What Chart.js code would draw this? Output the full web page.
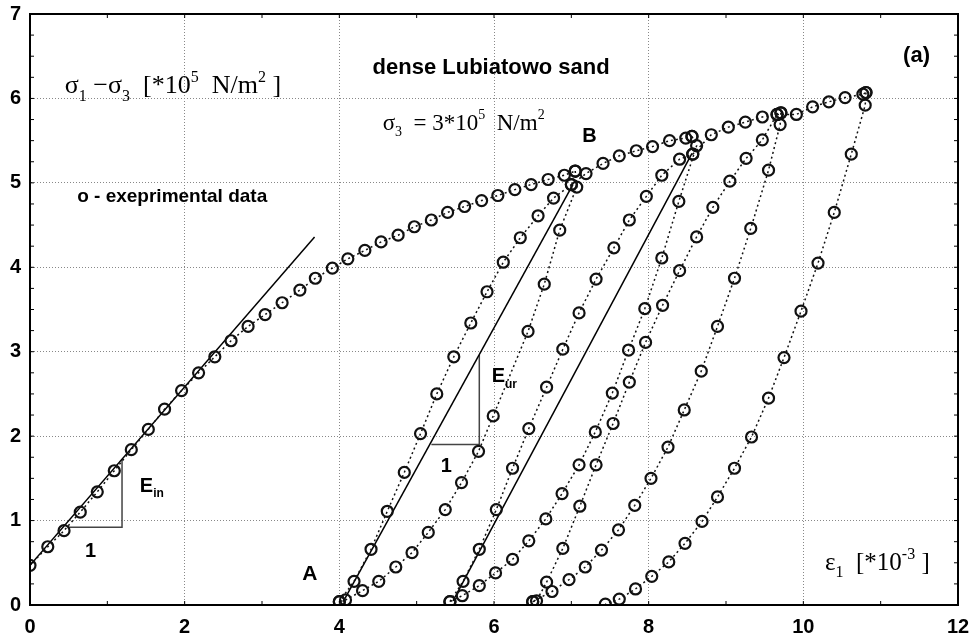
<!DOCTYPE html>
<html>
<head>
<meta charset="utf-8">
<script src="https://cdn.jsdelivr.net/npm/chart.js@4.4.1/dist/chart.umd.min.js"></script>
<style>
  body { margin: 0; background: #fff; }
  #wrap { width: 975px; height: 641px; }
</style>
</head>
<body>
<div id="wrap"><canvas id="sand-chart" width="975" height="641"></canvas></div>
<script>
// Triaxial test, dense Lubiatowo sand: points as [strain, deviator]

const xTicks = [0, 2, 4, 6, 8, 10, 12];
const yTicks = [0, 1, 2, 3, 4, 5, 6, 7];

const virginLoad = [[0,0.47],[0.23,0.69],[0.44,0.88],[0.65,1.1],[0.87,1.34],[1.09,1.59],[1.31,1.84],[1.53,2.08],
  [1.74,2.32],[1.96,2.54],[2.18,2.75],[2.39,2.94],[2.6,3.13],[2.82,3.3],[3.04,3.44],[3.26,3.58],[3.49,3.73],
  [3.69,3.87],[3.91,3.99],[4.11,4.1],[4.33,4.2],[4.54,4.3],[4.76,4.38],[4.97,4.48],[5.19,4.56],[5.4,4.65],
  [5.62,4.72],[5.84,4.79],[6.05,4.85],[6.27,4.92],[6.48,4.98],[6.7,5.04],[6.91,5.09],[7.05,5.14]];
const unload1 = [[7.05,5.14],[7.07,4.95],[6.85,4.44],[6.65,3.8],[6.44,3.24],[5.99,2.24],[5.8,1.82],[5.58,1.45],
  [5.37,1.13],[5.15,0.86],[4.94,0.62],[4.73,0.45],[4.51,0.28],[4.3,0.17],[4.08,0.06],[4.0,0.04]];
const reload1 = [[4.0,0.04],[4.19,0.28],[4.41,0.66],[4.62,1.11],[4.84,1.57],[5.05,2.03],[5.26,2.5],[5.48,2.94],
  [5.7,3.34],[5.91,3.71],[6.12,4.06],[6.34,4.35],[6.57,4.61],[6.77,4.82],[7.0,4.98]];
const load2 = [[7.0,4.98],[7.19,5.11],[7.41,5.23],[7.62,5.32],[7.84,5.38],[8.05,5.43],[8.27,5.5],[8.48,5.53],[8.56,5.55]];
const unload2 = [[8.56,5.55],[8.62,5.44],[8.39,4.78],[8.17,4.11],[7.95,3.51],[7.74,3.02],[7.53,2.51],[7.31,2.05],
  [7.1,1.66],[6.88,1.32],[6.67,1.02],[6.45,0.76],[6.24,0.54],[6.02,0.38],[5.81,0.23],[5.59,0.11],[5.43,0.04]];
const reload2 = [[5.43,0.04],[5.6,0.28],[5.81,0.66],[6.03,1.13],[6.24,1.62],[6.45,2.09],[6.68,2.58],[6.89,3.03],
  [7.1,3.46],[7.32,3.86],[7.55,4.23],[7.75,4.56],[7.97,4.84],[8.17,5.09],[8.4,5.28],[8.57,5.34]];
const load3 = [[8.57,5.34],[8.81,5.57],[9.03,5.66],[9.25,5.72],[9.47,5.78],[9.71,5.83]];
const unload3 = [[9.71,5.83],[9.7,5.69],[9.55,5.15],[9.32,4.46],[9.11,3.87],[8.89,3.3],[8.68,2.77],[8.46,2.31],
  [8.25,1.87],[8.03,1.5],[7.82,1.18],[7.61,0.89],[7.39,0.65],[7.18,0.45],[6.97,0.3],[6.75,0.16],[6.5,0.04]];
const reload3 = [[6.5,0.04],[6.55,0.05],[6.68,0.27],[6.89,0.67],[7.11,1.17],[7.32,1.66],[7.54,2.15],[7.75,2.64],
  [7.96,3.11],[8.18,3.55],[8.4,3.96],[8.62,4.36],[8.83,4.71],[9.05,5.02],[9.26,5.29],[9.47,5.51],[9.66,5.81]];
const load4 = [[9.66,5.81],[9.91,5.81],[10.12,5.9],[10.33,5.96],[10.54,6.01],[10.77,6.05],[10.81,6.07]];
const unload4 = [[10.81,6.07],[10.8,5.92],[10.62,5.34],[10.4,4.65],[10.19,4.05],[9.97,3.48],[9.75,2.93],[9.55,2.45],
  [9.33,1.99],[9.11,1.62],[8.89,1.28],[8.69,0.99],[8.47,0.73],[8.26,0.51],[8.04,0.34],[7.83,0.19],[7.62,0.07],[7.44,0.01]];

// fitted moduli lines and their slope triangles
const einLine = [[0,0.47],[3.68,4.36]];
const einTriangle = [[0.5,0.92],[1.19,0.92],[1.19,1.73]];
const eurLine1 = [[4.05,0.04],[7.02,4.98]];
const eurTriangle = [[5.19,1.9],[5.81,1.9],[5.81,2.96]];
const eurLine2 = [[5.47,0.05],[8.56,5.35]];

const branches = [virginLoad, unload1, reload1, load2, unload2, reload2, load3, unload3, reload3, load4, unload4];

function xy(arr) {
    return arr.map(p => ({x: p[0], y: p[1]}));
}

var datasets = [];
branches.forEach(b => {
    datasets.push({
        data: xy(b),
        showLine: true,
        borderColor: '#111',
        borderWidth: 1.5,
        borderDash: [2, 3],
        pointRadius: 5.5,
        pointBorderWidth: 2.2,
        pointBorderColor: '#111',
        pointBackgroundColor: 'rgba(0,0,0,0)'
    });
});
[einLine, eurLine1, eurLine2].forEach(l => {
    datasets.push({data: xy(l), showLine: true, borderColor: '#000', borderWidth: 1.5, pointRadius: 0});
});
[einTriangle, eurTriangle].forEach(t => {
    datasets.push({data: xy(t), showLine: true, borderColor: '#444', borderWidth: 1.5, pointRadius: 0});
});

const SANS = '"Liberation Sans", Arial, sans-serif';
const SERIF = '"Liberation Serif", "Times New Roman", serif';

// text with sub/superscripts, anchored at data coords
function richText(ctx, chart, x, y, parts, size, family, bold) {
    let px = chart.scales.x.getPixelForValue(x);
    const py = chart.scales.y.getPixelForValue(y);
    parts.forEach(([t, k]) => {
        const s = k === 'n' ? size : Math.round(size * 0.62);
        ctx.font = (bold ? 'bold ' : '') + s + 'px ' + family;
        const dy = k === 'sub' ? size * 0.28 : (k === 'sup' ? -size * 0.45 : 0);
        ctx.fillText(t, px, py + dy);
        px += ctx.measureText(t).width;
    });
}

const decorations = {
    id: 'decorations',
    afterDatasetsDraw(chart) {
        const ctx = chart.ctx;
        const a = chart.chartArea;
        const sx = chart.scales.x, sy = chart.scales.y;
        ctx.save();
        ctx.strokeStyle = '#000';
        ctx.lineWidth = 2;
        ctx.strokeRect(a.left, a.top, a.right - a.left, a.bottom - a.top);
        ctx.lineWidth = 1;
        ctx.beginPath();
        for (let v = 0.25; v < 7; v += 0.25) {
            const p = sy.getPixelForValue(v);
            ctx.moveTo(a.left, p); ctx.lineTo(a.left + 4, p);
            ctx.moveTo(a.right, p); ctx.lineTo(a.right - 4, p);
        }
        for (let v = 1; v < 12; v += 1) {
            const p = sx.getPixelForValue(v);
            ctx.moveTo(p, a.bottom); ctx.lineTo(p, a.bottom - 4);
            ctx.moveTo(p, a.top); ctx.lineTo(p, a.top + 4);
        }
        ctx.stroke();

        ctx.fillStyle = '#000';
        ctx.textBaseline = 'alphabetic';
        ctx.textAlign = 'left';
        richText(ctx, chart, 0.45, 6.06, [['σ','n'],['1','sub'],[' −σ','n'],['3','sub'],['  [*10','n'],['5','sup'],['  N/m','n'],['2','sup'],[' ]','n']], 26, SERIF, false);
        richText(ctx, chart, 0.61, 4.77, [['o - exeprimental data','n']], 19, SANS, true);
        richText(ctx, chart, 4.43, 6.29, [['dense Lubiatowo sand','n']], 22, SANS, true);
        richText(ctx, chart, 4.56, 5.63, [['σ','n'],['3','sub'],['  = 3*10','n'],['5','sup'],['  N/m','n'],['2','sup']], 23, SERIF, false);
        richText(ctx, chart, 7.14, 5.48, [['B','n']], 20, SANS, true);
        richText(ctx, chart, 11.29, 6.43, [['(a)','n']], 22, SANS, true);
        richText(ctx, chart, 3.52, 0.30, [['A','n']], 21, SANS, true);
        richText(ctx, chart, 10.28, 0.41, [['ε','n'],['1','sub'],['  [*10','n'],['-3','sup'],[' ]','n']], 25, SERIF, false);
        richText(ctx, chart, 1.42, 1.34, [['E','n'],['in','sub']], 20, SANS, true);
        richText(ctx, chart, 0.71, 0.57, [['1','n']], 20, SANS, true);
        richText(ctx, chart, 5.97, 2.64, [['E','n'],['ur','sub']], 20, SANS, true);
        richText(ctx, chart, 5.31, 1.58, [['1','n']], 20, SANS, true);
        ctx.restore();
    }
};

const tickFont = {family: SANS, size: 20, weight: 'bold'};

var ctx = document.getElementById('sand-chart').getContext('2d');
var sandChart = new Chart(ctx, {
    type: 'scatter',
    data: {datasets: datasets},
    options: {
        responsive: false,
        animation: false,
        layout: {padding: {left: 0, right: 17, top: 14, bottom: 0}},
        plugins: {legend: {display: false}, tooltip: {enabled: false}},
        scales: {
            x: {
                type: 'linear', min: 0, max: 12,
                afterBuildTicks: s => { s.ticks = xTicks.map(v => ({value: v})); },
                afterFit: s => { s.height = 36; s.paddingLeft = 0; s.paddingRight = 0; },
                ticks: {font: tickFont, color: '#000', padding: 10},
                grid: {color: '#888', lineWidth: 1, drawTicks: false},
                border: {display: true, color: '#000', width: 2, dash: [1, 2]}
            },
            y: {
                type: 'linear', min: 0, max: 7,
                afterBuildTicks: s => { s.ticks = yTicks.map(v => ({value: v})); },
                afterFit: s => { s.width = 30; s.paddingTop = 0; s.paddingBottom = 0; },
                ticks: {font: tickFont, color: '#000', padding: 9},
                grid: {color: '#888', lineWidth: 1, drawTicks: false},
                border: {display: true, color: '#000', width: 2, dash: [1, 2]}
            }
        }
    },
    plugins: [decorations]
});
</script>
</body>
</html>
